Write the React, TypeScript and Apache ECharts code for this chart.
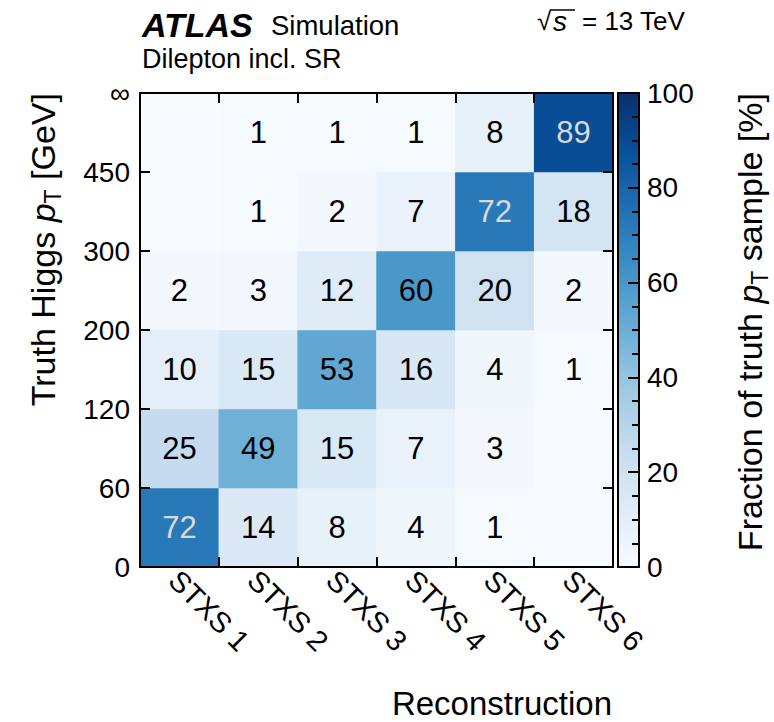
import React, { useEffect, useRef } from "react";
import * as echarts from "echarts";

const reconCategories = ["STXS 1", "STXS 2", "STXS 3", "STXS 4", "STXS 5", "STXS 6"];
const truthBins = ["0-60", "60-120", "120-200", "200-300", "300-450", "450-inf"];
const yTickLabels = ["0", "60", "120", "200", "300", "450", "\u221E"];

// fractions [%] per truth bin (bottom row first), one value per reco category
const row0to60 = [72, 14, 8, 4, 1, 0];
const row60to120 = [25, 49, 15, 7, 3, 0];
const row120to200 = [10, 15, 53, 16, 4, 1];
const row200to300 = [2, 3, 12, 60, 20, 2];
const row300to450 = [0, 1, 2, 7, 72, 18];
const row450toInf = [0, 1, 1, 1, 8, 89];
const rows = [row0to60, row60to120, row120to200, row200to300, row300to450, row450toInf];

const colorbarTicks = { min: 0, max: 100, interval: 20 };

const BLUES = ["#f7fbff", "#deebf7", "#c6dbef", "#9ecae1", "#6baed6", "#4292c6", "#2171b5", "#08519c", "#08306b"];
const FONT = "'Liberation Sans', Arial, Helvetica, sans-serif";

export default function App() {
  const ref = useRef<HTMLDivElement>(null);
  useEffect(() => {
    document.body.style.margin = "0";
    const chart = echarts.init(ref.current!, undefined, { renderer: "svg" });
    const data: any[] = [];
    rows.forEach((row, r) =>
      row.forEach((v, c) => {
        data.push({ value: [c, r, v], label: { color: v >= 70 ? "#d9d9d9" : "#000" } });
      })
    );
    const gradient = new echarts.graphic.LinearGradient(
      0, 1, 0, 0,
      BLUES.map((color, i) => ({ offset: i / (BLUES.length - 1), color }))
    );
    const frameLine = { show: true, onZero: false, lineStyle: { color: "#000", width: 2 } };
    const inTick = { show: true, inside: true, length: 10, lineStyle: { color: "#000", width: 2 } };
    const G = { left: 140, top: 93, width: 473, height: 474 };
    const CB = { left: 618, top: 93, width: 21, height: 474 };
    const sub = { fontSize: 23, fontFamily: FONT, lineHeight: 42, verticalAlign: "bottom", fill: "#000", color: "#000" };
    const base = { fontSize: 34, fontFamily: FONT, lineHeight: 42, fill: "#000", color: "#000" };
    const ital = { fontSize: 34, fontFamily: FONT, fontStyle: "italic", lineHeight: 42, fill: "#000", color: "#000" };
    const txt = (x: number, y: number, text: string, font: string, align = "left") => ({
      type: "text", x, y,
      style: { text, font, fill: "#000", align, verticalAlign: "middle", textAlign: align, textVerticalAlign: "middle" },
    });
    chart.setOption({
      animation: false,
      grid: [
        { ...G, containLabel: false },
        { ...CB, containLabel: false, show: true, backgroundColor: gradient, borderWidth: 0 },
      ],
      xAxis: [
        {
          type: "category", gridIndex: 0, position: "bottom", data: reconCategories, z: 10,
          axisLine: frameLine, axisTick: inTick, splitLine: { show: false },
          axisLabel: { rotate: -45, fontSize: 29, color: "#000", fontFamily: FONT, margin: 14, padding: [0, 0, 0, -8] },
        },
        {
          type: "category", gridIndex: 0, position: "top", data: reconCategories, z: 10,
          axisLine: frameLine, axisTick: inTick, axisLabel: { show: false }, splitLine: { show: false },
        },
        {
          type: "value", gridIndex: 1, position: "bottom", min: 0, max: 1, z: 10,
          axisLine: frameLine, axisTick: { show: false }, axisLabel: { show: false }, splitLine: { show: false },
        },
        {
          type: "value", gridIndex: 1, position: "top", min: 0, max: 1, z: 10,
          axisLine: frameLine, axisTick: { show: false }, axisLabel: { show: false }, splitLine: { show: false },
        },
      ],
      yAxis: [
        {
          type: "category", gridIndex: 0, position: "left", data: truthBins, z: 10,
          axisLine: frameLine, axisTick: inTick, axisLabel: { show: false }, splitLine: { show: false },
        },
        {
          type: "value", gridIndex: 0, position: "left", min: 0, max: yTickLabels.length - 1, interval: 1, z: 10,
          axisLine: { show: false, onZero: false }, axisTick: { show: false }, splitLine: { show: false },
          axisLabel: {
            fontSize: 28, color: "#000", fontFamily: FONT, margin: 10,
            formatter: (v: number) => yTickLabels[Math.round(v)] ?? "",
          },
        },
        {
          type: "category", gridIndex: 0, position: "right", data: truthBins, z: 10,
          axisLine: frameLine, axisTick: inTick, axisLabel: { show: false }, splitLine: { show: false },
        },
        {
          type: "value", gridIndex: 1, position: "left", min: 0, max: 100, z: 10,
          axisLine: frameLine, axisTick: { show: false }, axisLabel: { show: false }, splitLine: { show: false },
        },
        {
          type: "value", gridIndex: 1, position: "right", ...colorbarTicks, z: 10,
          axisLine: frameLine,
          axisTick: { show: true, inside: true, length: 11, lineStyle: { color: "#000", width: 2 } },
          minorTick: { show: true, splitNumber: 4, length: 7, lineStyle: { color: "#000", width: 2 } },
          splitLine: { show: false }, minorSplitLine: { show: false },
          axisLabel: { fontSize: 28, color: "#000", fontFamily: FONT, margin: 8 },
        },
      ],
      visualMap: {
        type: "continuous", min: 0, max: 100, seriesIndex: 0, show: false,
        inRange: { color: BLUES },
      },
      series: [
        {
          type: "heatmap", xAxisIndex: 0, yAxisIndex: 0, data,
          itemStyle: { borderWidth: 0 },
          emphasis: { disabled: true },
          label: {
            show: true, fontSize: 31, fontFamily: FONT,
            formatter: (p: any) => (p.value[2] > 0 ? String(p.value[2]) : ""),
          },
        },
      ],
      graphic: [
        txt(142, 25, "ATLAS", `italic bold 34px ${FONT}`),
        txt(271, 25, "Simulation", `27.5px ${FONT}`),
        txt(142, 59, "Dilepton incl. SR", `27px ${FONT}`),
        txt(537, 21, "\u221A", `26px ${FONT}`),
        txt(553, 21, "s", `italic 28px ${FONT}`),
        { type: "line", shape: { x1: 550, y1: 10, x2: 575, y2: 10 }, style: { stroke: "#000", lineWidth: 1.5 } },
        txt(582, 21, "= 13 TeV", `26px ${FONT}`),
        {
          type: "text", x: 43, y: 93, rotation: Math.PI / 2,
          style: {
            text: "{b|Truth Higgs }{i|p}{s|T}{b| [GeV]}",
            rich: { b: base, i: ital, s: sub },
            align: "right", verticalAlign: "middle", textAlign: "right", textVerticalAlign: "middle",
          },
        },
        {
          type: "text", x: 750, y: 93, rotation: Math.PI / 2,
          style: {
            text: "{b|Fraction of truth }{i|p}{s|T}{b| sample [%]}",
            rich: { b: base, i: ital, s: sub },
            align: "right", verticalAlign: "middle", textAlign: "right", textVerticalAlign: "middle",
          },
        },
        txt(612, 703, "Reconstruction", `33px ${FONT}`, "right"),
      ],
    });
    return () => chart.dispose();
  }, []);
  return <div ref={ref} style={{ width: 774, height: 722 }} />;
}
